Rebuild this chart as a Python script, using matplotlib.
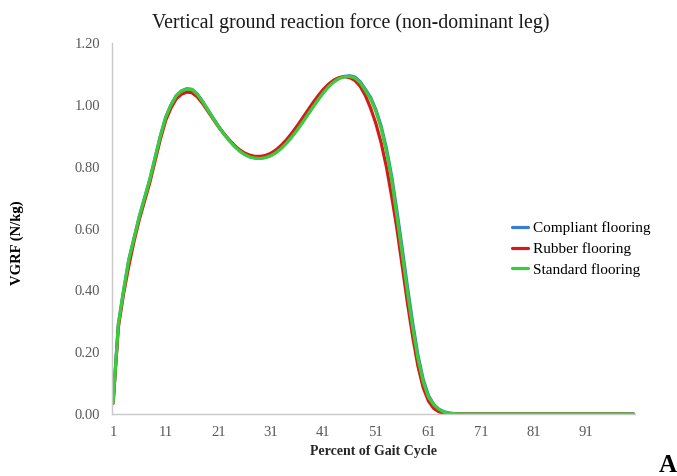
import matplotlib
matplotlib.use("Agg")
import matplotlib.pyplot as plt
import numpy as np

plt.rcParams["font.family"] = ["Liberation Serif", "DejaVu Serif"]

TITULO = "Vertical ground reaction force (non-dominant leg)"
SERIES = ["Compliant flooring", "Rubber flooring", "Standard flooring"]
COLORES = ["#3A7BD5", "#D7191C", "#3ACC3A"]

# porcentaje del ciclo de marcha (1..100)
ciclo = np.arange(1, 101)

# valores, 1..66; despues todo es cero
compliant_inicio = [
    0.035, 0.29, 0.40, 0.50, 0.57, 0.64, 0.70, 0.76, 0.83, 0.90,
    0.96, 1.00, 1.03, 1.046, 1.053, 1.051, 1.036, 1.013, 0.986, 0.959,
    0.933, 0.909, 0.888, 0.869, 0.853, 0.841, 0.833, 0.829, 0.828, 0.831,
    0.837, 0.847, 0.861, 0.878, 0.898, 0.920, 0.944, 0.969, 0.994, 1.018,
    1.041, 1.061, 1.076, 1.087, 1.093, 1.095, 1.091, 1.076, 1.051, 1.025,
    0.985, 0.932, 0.86, 0.77, 0.657, 0.537, 0.412, 0.295, 0.19, 0.112,
    0.06, 0.031, 0.015, 0.007, 0.003, 0.001,
]
rubber_inicio = [
    0.035, 0.28, 0.39, 0.48, 0.56, 0.63, 0.69, 0.75, 0.82, 0.89,
    0.95, 0.99, 1.02, 1.035, 1.042, 1.040, 1.027, 1.006, 0.981, 0.956,
    0.931, 0.909, 0.889, 0.871, 0.856, 0.845, 0.838, 0.834, 0.834, 0.837,
    0.844, 0.855, 0.870, 0.888, 0.909, 0.932, 0.957, 0.982, 1.007, 1.030,
    1.051, 1.068, 1.081, 1.089, 1.092, 1.089, 1.080, 1.061, 1.031, 0.99,
    0.94, 0.878, 0.80, 0.705, 0.60, 0.48, 0.36, 0.25, 0.155, 0.085,
    0.042, 0.018, 0.007, 0.003, 0.001, 0.0,
]
standard_inicio = [
    0.035, 0.29, 0.40, 0.50, 0.57, 0.64, 0.70, 0.76, 0.83, 0.90,
    0.96, 1.00, 1.03, 1.045, 1.052, 1.050, 1.035, 1.012, 0.985, 0.958,
    0.932, 0.908, 0.887, 0.868, 0.852, 0.840, 0.832, 0.828, 0.827, 0.830,
    0.836, 0.846, 0.860, 0.877, 0.897, 0.919, 0.943, 0.968, 0.993, 1.017,
    1.040, 1.060, 1.075, 1.086, 1.092, 1.093, 1.088, 1.073, 1.047, 1.02,
    0.98, 0.925, 0.85, 0.76, 0.64, 0.52, 0.395, 0.28, 0.18, 0.105,
    0.055, 0.03, 0.015, 0.006, 0.002, 0.001,
]
cola = [
    0.0, 0.0, 0.0, 0.0, 0.0, 0.0, 0.0, 0.0, 0.0, 0.0,
    0.0, 0.0, 0.0, 0.0, 0.0, 0.0, 0.0, 0.0, 0.0, 0.0,
    0.0, 0.0, 0.0, 0.0, 0.0, 0.0, 0.0, 0.0, 0.0, 0.0,
    0.0, 0.0, 0.0, 0.0,
]

compliant = compliant_inicio + cola
rubber = rubber_inicio + cola
standard = standard_inicio + cola

Y_TICKS = [0.0, 0.2, 0.4, 0.6, 0.8, 1.0, 1.2]
X_TICKS = [1, 11, 21, 31, 41, 51, 61, 71, 81, 91]


def main():
    fig = plt.figure(figsize=(6.77, 4.76), dpi=100)
    ax = fig.add_axes([0.1647, 0.1303, 0.938 - 0.1647, 0.909 - 0.1303])

    for valores, nombre, color in zip([compliant, rubber, standard], SERIES, COLORES):
        ax.plot(ciclo, valores, color=color, lw=2.3, label=nombre,
                solid_capstyle="round")

    ax.set_xlim(0.7, 100.3)
    ax.set_ylim(0, 1.2)
    ax.set_yticks(Y_TICKS)
    ax.set_yticklabels([f"{v:.2f}" for v in Y_TICKS])
    ax.set_xticks(X_TICKS)
    ax.tick_params(axis="both", length=0, labelsize=10.5, labelcolor="#595959")
    ax.tick_params(axis="y", pad=8)
    ax.tick_params(axis="x", pad=9)

    for lado in ["top", "right"]:
        ax.spines[lado].set_visible(False)
    for lado in ["left", "bottom"]:
        ax.spines[lado].set_color("#C8C8C8")
        ax.spines[lado].set_linewidth(1.0)

    fig.text(351 / 677, 1 - 23 / 476, TITULO, ha="center", va="center",
             fontsize=14.3, color="#1a1a1a")
    fig.text(17 / 677, 1 - 243 / 476, "VGRF (N/kg)", rotation=90,
             ha="center", va="center", fontsize=10.5, weight="bold")
    fig.text(373 / 677, 1 - 451 / 476, "Percent of Gait Cycle",
             ha="center", va="center", fontsize=10, weight="bold",
             color="#262626")
    fig.text(659 / 677, 1 - 465 / 476, "A", ha="left", va="center",
             fontsize=18, weight="bold")

    ax.legend(loc="center left", bbox_to_anchor=(512 / 677, 1 - 249 / 476),
              bbox_transform=fig.transFigure, frameon=False, fontsize=11,
              handlelength=1.05, handletextpad=0.35, labelspacing=0.45,
              borderpad=0, borderaxespad=0)

    fig.savefig("out.png", dpi=100)


if __name__ == "__main__":
    main()
